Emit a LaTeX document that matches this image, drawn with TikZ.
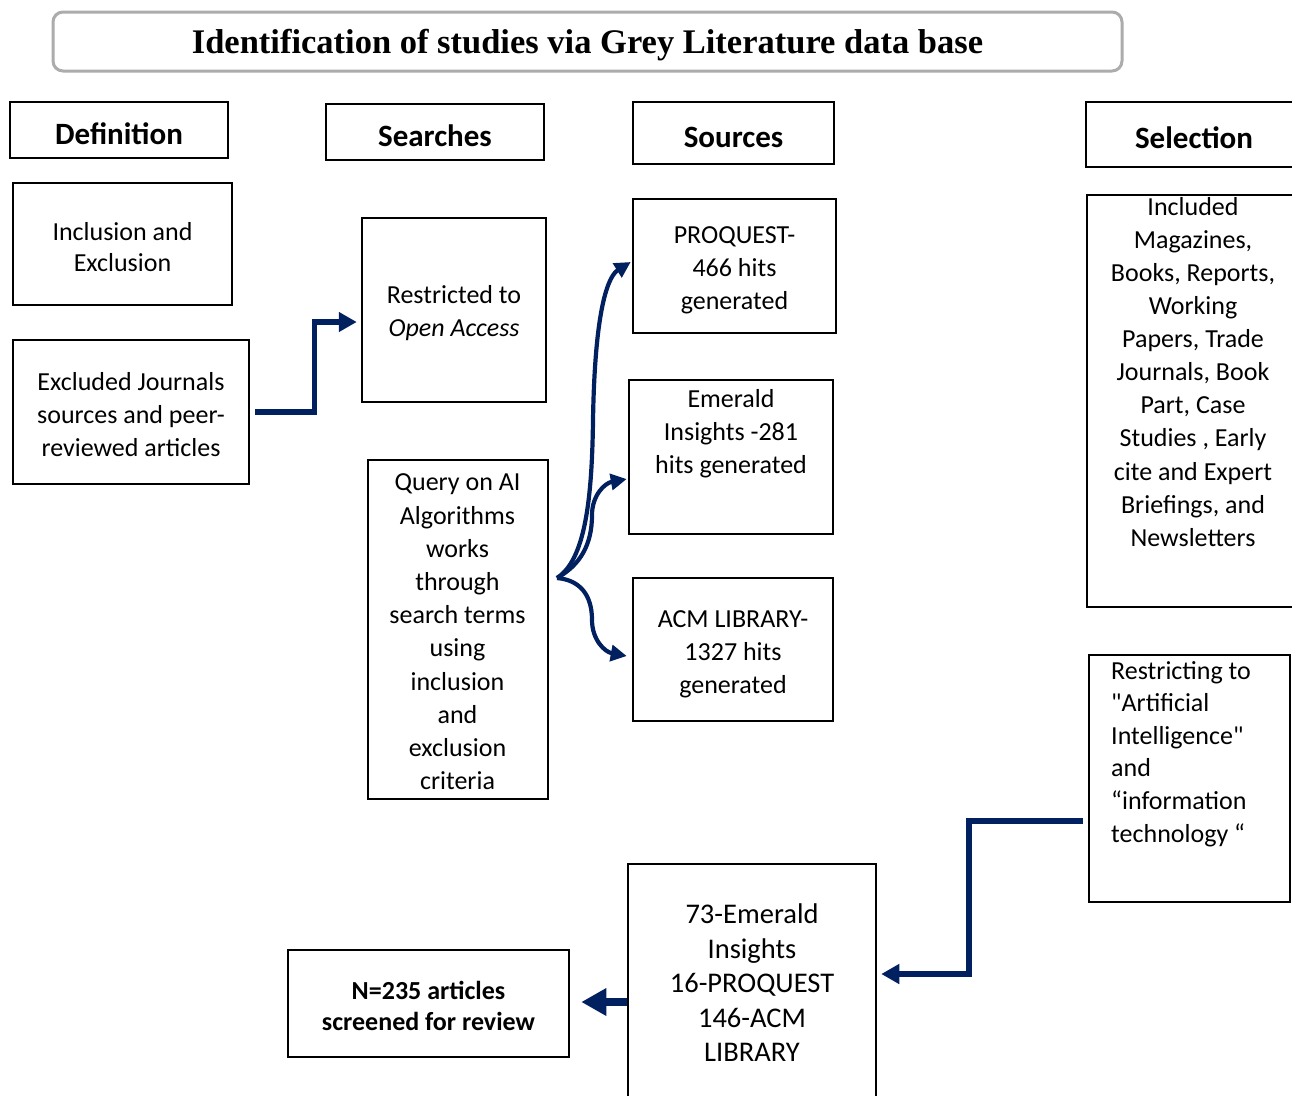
\documentclass[tikz,border=0pt]{standalone}
\usepackage{fontspec}
\setmainfont{Carlito}[Ligatures=TeXOff]
\newfontfamily\titlefont{Liberation Serif}
\usetikzlibrary{arrows.meta}
\definecolor{navy}{HTML}{002060}
\newcommand\sdq{\char34\relax}
\begin{document}
\begin{tikzpicture}[x=1pt,y=-1pt,
 box/.style={draw=black,line width=2.5pt,inner sep=0pt},
 headbox/.style={box,align=center,text height=28pt,text depth=0pt,font=\fontsize{31}{36}\selectfont\bfseries},
 arr/.style={draw=navy,line width=5.5pt,-{Triangle[length=18pt,width=19pt]}},
 carr/.style={draw=navy,line width=4.2pt,-{Triangle[length=16pt,width=16pt]}},
 txt/.style={inner sep=0pt,align=center,font=\fontsize{26}{33}\selectfont}]
\useasboundingbox[fill=white] (0,0) rectangle (1292,1095);

% title
\node[draw=gray!65,line width=3pt,rounded corners=10pt,minimum width=1069pt,minimum height=59pt,inner sep=0pt,text depth=0pt,
  font=\titlefont\bfseries\fontsize{34.5}{40}\selectfont] (title) at (587.5,41.5) {Identification of studies via Grey Literature data base};

% headings
\node[headbox,minimum width=218pt,minimum height=56pt] (def) at (119,130) {Definition};
\node[headbox,minimum width=218pt,minimum height=56pt] (sea) at (435,132) {Searches};
\node[headbox,minimum width=201pt,minimum height=62pt] (sou) at (733.5,133) {Sources};
\node[headbox,minimum width=216pt,minimum height=65pt] (sel) at (1194,134.5) {Selection};

% definition column
\node[box,minimum width=219pt,minimum height=122pt] (incl) at (122.5,244) {};
\node[txt,font=\fontsize{26}{31}\selectfont] (incltxt) at ([yshift=-3pt]incl.center) {Inclusion and\\Exclusion};
\node[box,minimum width=236pt,minimum height=144pt] (excl) at (131,412) {};
\node[txt] (excltxt) at ([yshift=-3pt]excl.center) {Excluded Journals\\sources and peer-\\reviewed articles};

% searches column
\node[box,minimum width=184pt,minimum height=184pt] (restr) at (454,310) {};
\node[txt] (restrtxt) at ([yshift=-3.5pt]restr.center) {Restricted to\\\textit{Open Access}};
\node[box,minimum width=180pt,minimum height=339pt] (query) at (458,629.5) {};
\node[txt,font=\fontsize{26}{33.2}\selectfont] (querytxt) at ([xshift=-0.5pt,yshift=-2.5pt]query.center) {Query on AI\\Algorithms\\works\\through\\search terms\\using\\inclusion\\and\\exclusion\\criteria};

% sources column
\node[box,minimum width=203pt,minimum height=134pt] (proq) at (734.5,266) {};
\node[txt] (proqtxt) at ([yshift=-4pt]proq.center) {PROQUEST-\\466 hits\\generated};
\node[box,minimum width=204pt,minimum height=154pt] (emer) at (731,457) {};
\node[txt,anchor=north] (emertxt) at (731,389) {Emerald\\Insights -281\\hits generated};
\node[box,minimum width=200pt,minimum height=143pt] (acm) at (733,649.5) {};
\node[txt] (acmtxt) at ([yshift=-4.5pt]acm.center) {ACM LIBRARY-\\1327 hits\\generated};

% selection column
\node[box,minimum width=215pt,minimum height=412pt] (inc) at (1194.5,401) {};
\node[txt,anchor=north,font=\fontsize{26}{33.1}\selectfont] (inctxt) at (1193,197) {Included\\Magazines,\\Books, Reports,\\Working\\Papers, Trade\\Journals, Book\\Part, Case\\Studies , Early\\cite and Expert\\Briefings, and\\Newsletters};
\node[box,minimum width=201pt,minimum height=247pt] (restrict) at (1189.5,778.5) {};
\node[txt,anchor=north west,align=left,font=\fontsize{26}{32.6}\selectfont] (restricttxt) at (1111,661) {Restricting to\\\sdq Artificial\\Intelligence\sdq\\and\\“information\\technology “};

% results
\node[box,minimum width=248pt,minimum height=246pt] (res) at (752,987) {};
\node[txt,font=\fontsize{28.5}{34.5}\selectfont] (restxt) at (752,983) {73-Emerald\\Insights\\16-PROQUEST\\146-ACM\\LIBRARY};
\node[box,minimum width=281pt,minimum height=107pt] (n235) at (428.5,1003.5) {};
\node[txt,font=\fontsize{26}{31}\selectfont\bfseries] (n235txt) at ([yshift=-2pt]n235.center) {N=235 articles\\screened for review};

% connectors
\draw[arr] ([xshift=5pt]excl.east) -- ++(59,0) |- ([xshift=-4pt,yshift=-12pt]restr.west);

\coordinate (fork) at (557,578);
\draw[carr] (fork) .. controls (585,560) and (592,500) .. (593,420)
  .. controls (595,300) and (610,275) .. ([xshift=-1pt,yshift=4pt]proq.west);
\draw[carr] (fork) .. controls (580,565) and (592,545) .. (592,515)
  .. controls (592,495) and (605,483) .. ([xshift=-1pt,yshift=-22pt]emer.west);
\draw[carr] (fork) .. controls (580,580) and (592,595) .. (592,620)
  .. controls (592,640) and (605,652) .. ([xshift=-5pt,yshift=-6.5pt]acm.west);

\draw[arr] ([xshift=-5pt,yshift=-42.5pt]restrict.west) -- ++(-114,0) |- ([xshift=4pt,yshift=13pt]res.east);
\draw[draw=navy,line width=7.5pt,-{Triangle[length=25pt,width=26pt]}] ([yshift=-15pt]res.west) -- ([xshift=11pt,yshift=1.5pt]n235.east);
\end{tikzpicture}
\end{document}
